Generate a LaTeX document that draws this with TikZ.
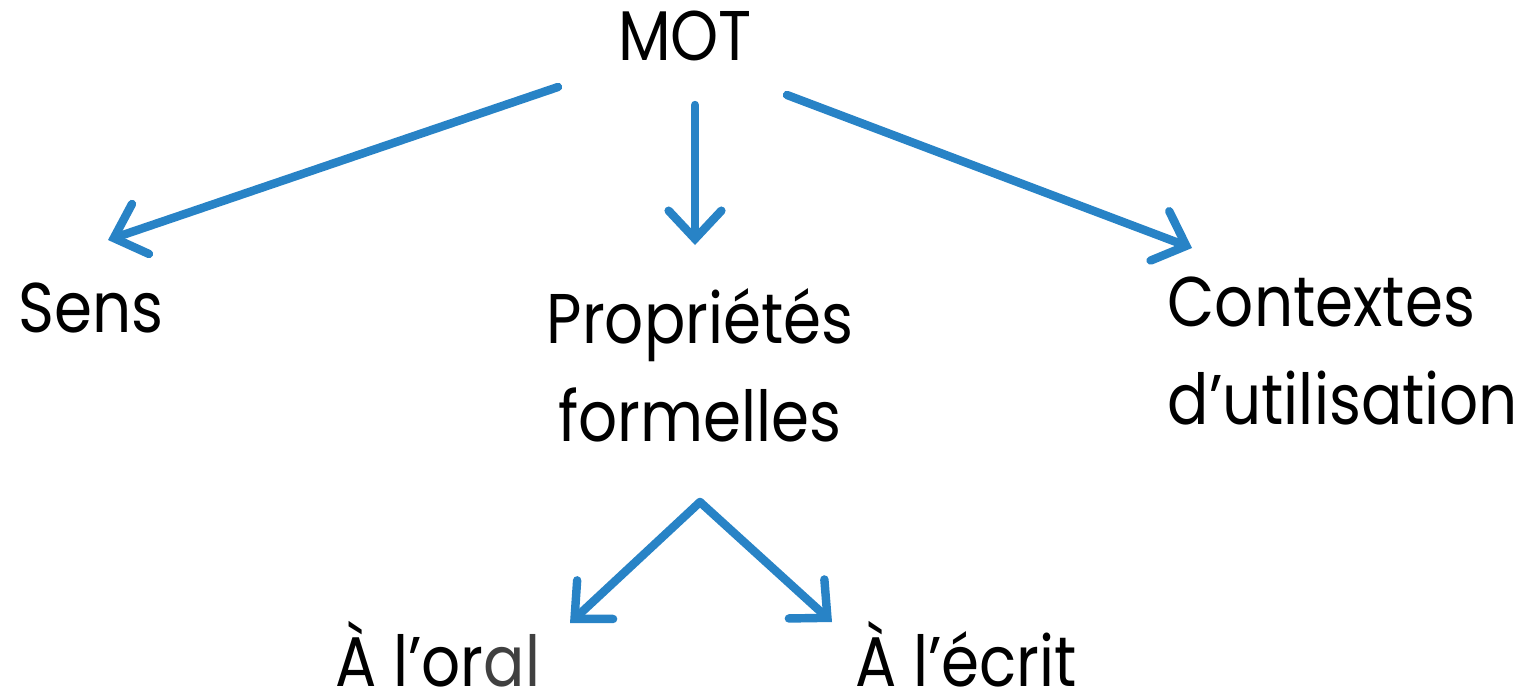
\documentclass[tikz,border=0pt]{standalone}
\usepackage{fontspec}
\setmainfont[FakeStretch=0.87]{Poppins}
\usetikzlibrary{arrows.meta}
\definecolor{arrowblue}{RGB}{40,131,198}
\definecolor{darkgrey}{RGB}{64,64,64}
\begin{document}
\begin{tikzpicture}[x=0.01cm,y=-0.01cm,
    lbl/.style={inner sep=0pt,font={\fontsize{20}{27.6}\selectfont}},
    arr/.style={draw=arrowblue,line width=2.4pt,line cap=round,
      -{Straight Barb[length=8pt,width=15pt,line cap=round]}}]
      \useasboundingbox (0,0) rectangle (1537,699);
      % words
      \node[lbl,anchor=base] (mot) at (685,60) {MOT};
      \node[lbl,anchor=base west] (sens) at (18,332) {Sens};
      \node[lbl,anchor=base,align=center] (prop) at (700,441) {Propriétés\\formelles};
      \node[lbl,anchor=base west,align=left] (ctx) at (1167,424) {Contextes\\d’utilisation};
      \node[lbl,anchor=base west,text depth=0pt] (oral) at (335,686) {À l’or{\color{darkgrey}al}};
      \node[lbl,anchor=base west,text depth=0pt] (ecrit) at (855,686) {À l’écrit};
      % arrow ends
      \coordinate (m1) at (558,87);   \coordinate (s1) at (108,240);
      \coordinate (m2) at (695,105);  \coordinate (p1) at (695,245);
      \coordinate (m3) at (787,95);   \coordinate (c1) at (1192,248);
      \coordinate (f1) at (700,502);
      \coordinate (o1) at (570,623);  \coordinate (e1) at (832,622);
      \draw[arr] (m1) -- (s1);
      \draw[arr] (m2) -- (p1);
      \draw[arr] (m3) -- (c1);
      \draw[arr] (f1) -- (o1);
      \draw[arr] (f1) -- (e1);
\end{tikzpicture}
\end{document}
